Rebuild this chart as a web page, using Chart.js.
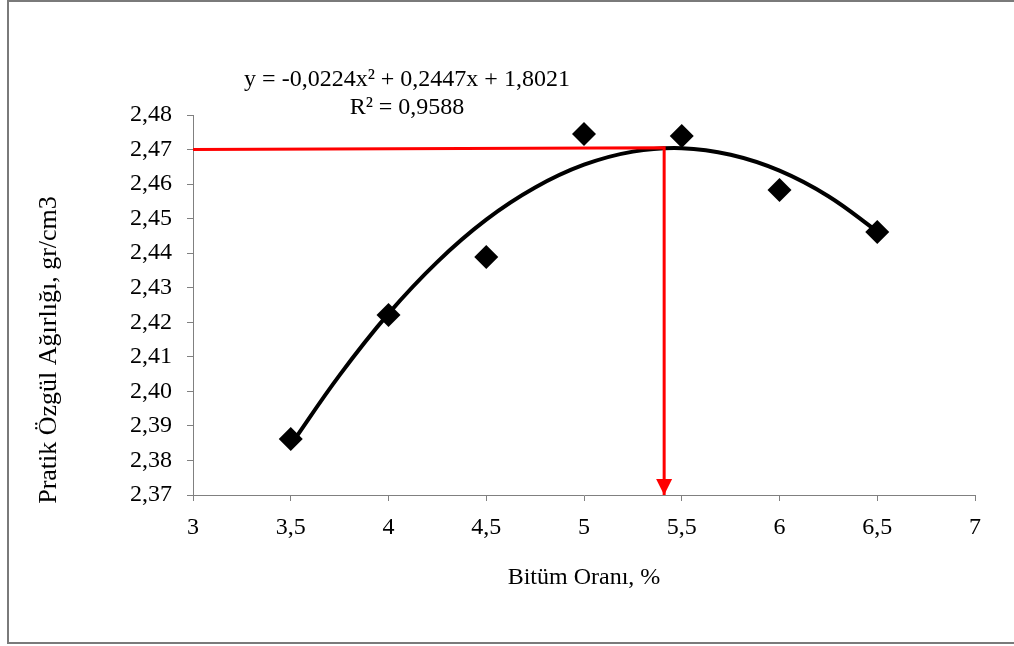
<!DOCTYPE html>
<html>
<head>
<meta charset="utf-8">
<script src="https://cdn.jsdelivr.net/npm/chart.js@4"></script>
<style>
    html, body { margin: 0; padding: 0; background: #fff; }
    #wrap { position: relative; width: 1014px; height: 646px; overflow: hidden; }
    #frame { position: absolute; left: 7px; top: 0; width: 1030px; height: 644px; box-sizing: border-box; border: 2px solid #7a7a7a; }
    #chart { position: absolute; left: 0; top: 0; }
</style>
</head>
<body>
<div id="wrap">
    <div id="frame"></div>
    <canvas id="chart" width="1014" height="646"></canvas>
</div>
<script>
// measured points (bitumen %, practical specific gravity)
const bitumen = [3.5, 4, 4.5, 5, 5.5, 6, 6.5];
const density = [2.3862, 2.4221, 2.4389, 2.4745, 2.4739, 2.4583, 2.4461];

// polynomial trendline
const trendX = [3.5, 3.75, 4, 4.25, 4.5, 4.75, 5, 5.25, 5.5, 5.75, 6, 6.25, 6.5];
const trendY = [2.3845, 2.4047, 2.4225, 2.4375, 2.4497, 2.4590, 2.4656, 2.4694, 2.4704, 2.4685, 2.4639, 2.4565, 2.4463];

// red optimum guide: from y axis across to the peak, then down to x axis
const optimumX = [3, 5.41, 5.41];
const optimumY = [2.47, 2.4705, 2.37];

const xTickLabels = ['3', '3,5', '4', '4,5', '5', '5,5', '6', '6,5', '7'];
const yTickLabels = ['2,37', '2,38', '2,39', '2,40', '2,41', '2,42', '2,43', '2,44', '2,45', '2,46', '2,47', '2,48'];

const equationText = 'y = -0,0224x² + 0,2447x + 1,8021';
const rSquaredText = 'R² = 0,9588';
const xTitle = 'Bitüm Oranı, %';
const yTitle = 'Pratik Özgül Ağırlığı, gr/cm3';

const FONT = '"Liberation Serif", "Times New Roman", serif';
Chart.defaults.font.family = FONT;
Chart.defaults.font.size = 24;
Chart.defaults.color = '#000';

const toPoints = (xs, ys) => xs.map((x, i) => ({ x: x, y: ys[i] }));

// arrow head at the end of the red guide + free text labels
const annotations = {
    id: 'annotations',
    afterDatasetsDraw(chart) {
        const ctx = chart.ctx;
        const meta = chart.getDatasetMeta(1);
        const tip = meta.data[meta.data.length - 1];
        ctx.save();
        ctx.fillStyle = '#ff0000';
        ctx.beginPath();
        ctx.moveTo(tip.x, tip.y);
        ctx.lineTo(tip.x - 8, tip.y - 16);
        ctx.lineTo(tip.x + 8, tip.y - 16);
        ctx.closePath();
        ctx.fill();

        ctx.fillStyle = '#000';
        ctx.font = '24px ' + FONT;
        ctx.textAlign = 'center';
        ctx.textBaseline = 'middle';
        ctx.fillText(equationText, 407, 80);
        ctx.fillText(rSquaredText, 407, 108);

        ctx.font = '26px ' + FONT;
        ctx.translate(49, 350);
        ctx.rotate(-Math.PI / 2);
        ctx.fillText(yTitle, 0, 0);
        ctx.restore();
    }
};

const ctx = document.getElementById('chart').getContext('2d');
const chart = new Chart(ctx, {
    type: 'scatter',
    data: {
        datasets: [{
            label: 'Pratik Özgül Ağırlık',
            data: toPoints(bitumen, density),
            pointStyle: 'rectRot',
            pointRadius: 12,
            pointHoverRadius: 12,
            backgroundColor: '#000',
            borderColor: '#000',
            borderWidth: 0
        }, {
            label: 'Optimum',
            data: toPoints(optimumX, optimumY),
            showLine: true,
            borderColor: '#ff0000',
            borderWidth: 3,
            pointRadius: 0,
            tension: 0
        }, {
            label: 'Polinom',
            data: toPoints(trendX, trendY),
            showLine: true,
            borderColor: '#000',
            borderWidth: 4,
            pointRadius: 0,
            tension: 0.4
        }]
    },
    options: {
        responsive: false,
        animation: false,
        layout: {
            padding: { left: 0, top: 115, right: 39, bottom: 0 }
        },
        plugins: {
            legend: { display: false },
            tooltip: { enabled: false }
        },
        scales: {
            x: {
                type: 'linear',
                min: 3,
                max: 7,
                afterFit: function (scale) { scale.height = 151; },
                ticks: {
                    stepSize: 0.5,
                    padding: 12,
                    callback: function (value, index) { return xTickLabels[index]; }
                },
                grid: { drawOnChartArea: false, tickLength: 6, color: '#808080' },
                border: { color: '#808080', width: 1 },
                title: {
                    display: true,
                    text: xTitle,
                    font: { size: 24 },
                    padding: { top: 0, bottom: 54 }
                }
            },
            y: {
                min: 2.37,
                max: 2.48,
                afterFit: function (scale) { scale.width = 193; },
                ticks: {
                    stepSize: 0.01,
                    padding: 15,
                    callback: function (value, index) { return yTickLabels[index]; }
                },
                grid: { drawOnChartArea: false, tickLength: 6, color: '#808080' },
                border: { color: '#808080', width: 1 }
            }
        }
    },
    plugins: [annotations]
});
</script>
</body>
</html>
